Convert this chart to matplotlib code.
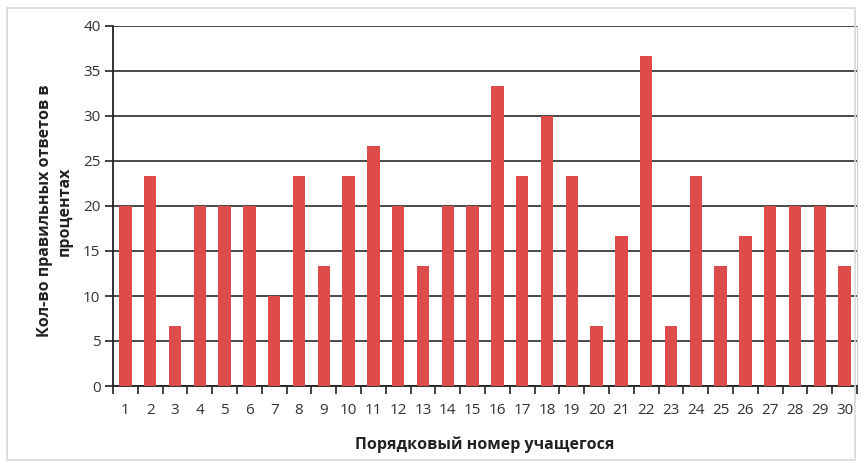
import matplotlib
matplotlib.use("Agg")
import matplotlib.pyplot as plt
from matplotlib.patches import Rectangle

students = list(range(1, 31))
values = [20, 23.33, 6.67, 20, 20, 20, 10, 23.33, 13.33, 23.33,
          26.67, 20, 13.33, 20, 20, 33.33, 23.33, 30, 23.33, 6.67,
          16.67, 36.67, 6.67, 23.33, 13.33, 16.67, 20, 20, 20, 13.33]
yticks = [0, 5, 10, 15, 20, 25, 30, 35, 40]

plt.rcParams['font.family'] = ['Open Sans', 'DejaVu Sans']

fig = plt.figure(figsize=(8.64, 4.68), dpi=100)
fig.patches.append(Rectangle((7/864, 8/468), 855/864 - 7/864, 460/468 - 8/468,
                             transform=fig.transFigure, fill=False,
                             edgecolor='#d9d9d9', linewidth=1.2, zorder=0))
ax = fig.add_axes([113/864, 1 - 386/468, (857 - 113)/864, (386 - 26)/468])

x = list(range(len(students)))
ax.bar(x, values, width=0.5, color='#DE4B4B', zorder=3)
ax.set_xlim(-0.5, len(students) - 0.5)
ax.set_ylim(0, 40)
ax.set_yticks(yticks)
ax.set_yticklabels([str(t) for t in yticks])
ax.yaxis.grid(True, color='#3a3a3a', linewidth=1.3, zorder=0)
ax.set_axisbelow(True)

ax.set_xticks([i - 0.5 for i in range(len(students) + 1)])
ax.set_xticklabels([])
ax.set_xticks(x, minor=True)
ax.set_xticklabels([str(s) for s in students], minor=True)
ax.tick_params(axis='x', which='major', length=6, width=1.2, color='#222222', direction='out')
ax.tick_params(axis='x', which='minor', length=0, pad=12, labelsize=11, labelcolor='#333333')
ax.tick_params(axis='y', length=6, width=1.2, color='#222222', labelsize=11,
               labelcolor='#333333', pad=3)

ax.spines['top'].set_visible(False)
ax.spines['right'].set_color('#d0d0d0')
ax.spines['left'].set_color('#222222')
ax.spines['left'].set_linewidth(1.3)
ax.spines['bottom'].set_color('#222222')
ax.spines['bottom'].set_linewidth(1.3)

ax.set_xlabel('Порядковый номер учащегося', fontsize=11.5, fontweight='bold',
              color='#222222', va='center')
ax.xaxis.set_label_coords(0.5, -0.164)
ax.set_ylabel('Кол-во правильных ответов в\nпроцентах', fontsize=11.5,
              fontweight='bold', color='#222222', va='center', linespacing=1.25)
ax.yaxis.set_label_coords(-0.078, 0.486)

fig.savefig('out.png', dpi=100)
